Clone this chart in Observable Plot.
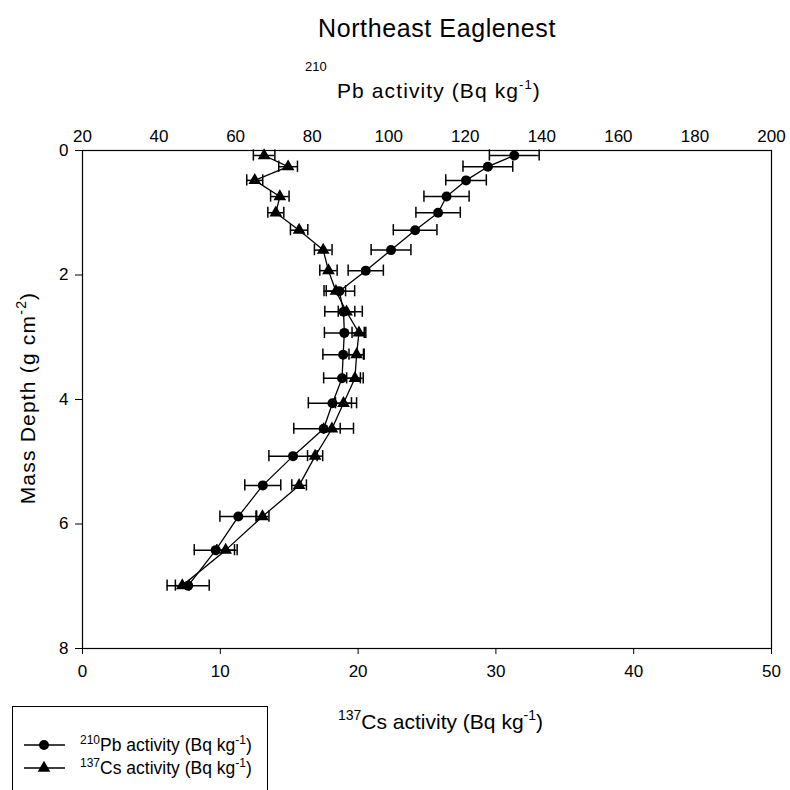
<!DOCTYPE html>
<html><head><meta charset="utf-8">
<script src="https://cdn.jsdelivr.net/npm/d3@7"></script>
<script src="https://cdn.jsdelivr.net/npm/@observablehq/plot@0.6"></script>
<style>
body{margin:0;background:#fff;font-family:"Liberation Sans",Arial,sans-serif;}
#wrap{position:relative;width:790px;height:790px;overflow:hidden;background:#fff;}
#wrap svg{position:absolute;left:0;top:0;}
</style></head><body><div id="wrap"></div>
<script>
// Data
const depth = [0.08,0.26,0.48,0.74,1.00,1.28,1.60,1.93,2.26,2.59,2.93,3.28,3.66,4.06,4.47,4.91,5.38,5.88,6.42,6.99];
const pb    = [132.8,125.9,120.2,115.1,112.9,106.9,100.6,94.0,87.1,88.2,88.4,88.1,87.8,85.3,83.0,75.0,67.1,60.7,54.8,47.6];
const pbErr = [6.5,6.5,5.3,5.9,5.8,5.7,5.2,4.6,4.0,4.9,5.2,5.3,4.8,6.3,7.8,6.3,4.7,4.8,5.6,5.5];
const cs    = [13.18,14.92,12.50,14.32,14.03,15.72,17.47,17.85,18.39,19.16,20.06,19.89,19.77,18.94,18.10,16.88,15.72,13.06,10.39,7.24];
const csErr = [0.78,0.68,0.58,0.67,0.58,0.63,0.64,0.63,0.70,0.60,0.50,0.55,0.60,0.58,0.60,0.55,0.53,0.47,0.64,0.50];
const pbTicks = [20,40,60,80,100,120,140,160,180,200];
const csTicks = [0,10,20,30,40,50];
const depthTicks = [0,2,4,6,8];
const title = "Northeast Eaglenest";

const W = 790, H = 790;
const font = '"Liberation Sans", Arial, sans-serif';
const rows = depth.map((d, i) => ({depth: d, pb: pb[i], pbErr: pbErr[i], cs: cs[i], csErr: csErr[i]}));
const cap = 0.09;
const common = {
  width: W, height: H, marginTop: 150, marginBottom: 142, marginLeft: 82, marginRight: 19,
  style: {background: "transparent", fontFamily: font, fontSize: "17px", color: "black", overflow: "visible"},
  y: {domain: [0, 8], reverse: true}
};

function errMarks(xv, ev, sym, r) {
  return [
    Plot.ruleY(rows, {y: "depth", x1: d => d[xv] - d[ev], x2: d => d[xv] + d[ev], stroke: "black", strokeWidth: 1.5}),
    Plot.ruleX(rows, {x: d => d[xv] - d[ev], y1: d => d.depth - cap, y2: d => d.depth + cap, stroke: "black", strokeWidth: 1.5}),
    Plot.ruleX(rows, {x: d => d[xv] + d[ev], y1: d => d.depth - cap, y2: d => d.depth + cap, stroke: "black", strokeWidth: 1.5}),
    Plot.line(rows, {x: xv, y: "depth", stroke: "black", strokeWidth: 1.3}),
    Plot.dot(rows, {x: xv, y: "depth", symbol: sym, r: r, fill: "black", stroke: "none"})
  ];
}

const plotCs = Plot.plot({
  ...common,
  x: {domain: [0, 50]},
  marks: [
    Plot.frame({stroke: "black", strokeWidth: 1.2}),
    Plot.axisX({anchor: "bottom", ticks: csTicks, tickSize: 6, tickPadding: 10, label: null, fontSize: 17}),
    Plot.axisY({anchor: "left", ticks: depthTicks, tickSize: 7, tickPadding: 7, label: null, fontSize: 17}),
    ...errMarks("cs", "csErr", "triangle", 4.7)
  ]
});

const plotPb = Plot.plot({
  ...common,
  x: {domain: [20, 200]},
  y: {domain: [0, 8], reverse: true, axis: null},
  marks: [
    Plot.axisX({anchor: "top", ticks: pbTicks, tickSize: 0, tickPadding: 9, label: null, fontSize: 17}),
    ...errMarks("pb", "pbErr", "circle", 5)
  ]
});

const wrap = document.getElementById("wrap");
wrap.appendChild(plotCs);
wrap.appendChild(plotPb);

// Text overlay: title, axis labels, legend
const svg = d3.select(wrap).append("svg").attr("width", W).attr("height", H)
  .style("font-family", font).attr("fill", "black");

function rich(sel, x, y, parts, size, supSize, opts = {}) {
  const t = sel.append("text").attr("x", x).attr("y", y).attr("font-size", size)
    .attr("text-anchor", opts.anchor || "start");
  if (opts.ls) t.attr("letter-spacing", opts.ls);
  if (opts.transform) t.attr("transform", opts.transform);
  const shift = size * 0.42;
  let raised = false;
  parts.forEach(p => {
    const ts = t.append("tspan").text(p.t);
    if (p.sup && !raised) { ts.attr("dy", -shift).attr("font-size", supSize); raised = true; }
    else if (p.sup) { ts.attr("font-size", supSize); }
    else if (!p.sup && raised) { ts.attr("dy", shift); raised = false; }
  });
  return t;
}

svg.append("text").attr("x", 437).attr("y", 37).attr("text-anchor", "middle")
  .attr("font-size", 25).attr("letter-spacing", 0.6).text(title);

// top axis label
svg.append("text").attr("x", 305).attr("y", 71).attr("font-size", 13).text("210");
rich(svg, 337, 98, [{t: "Pb activity (Bq kg"}, {t: "-1", sup: true}, {t: ")"}], 21, 13, {ls: 1.1});

// bottom axis label
rich(svg, 338, 729, [{t: "137", sup: true}, {t: "Cs activity (Bq kg"}, {t: "-1", sup: true}, {t: ")"}], 21, 14, {});

// y axis label
rich(svg, 0, 0, [{t: "Mass Depth (g cm"}, {t: "-2", sup: true}, {t: ")"}], 21, 14,
  {anchor: "middle", ls: 1.2, transform: "translate(35,398) rotate(-90)"});

// legend
svg.append("rect").attr("x", 12.5).attr("y", 706.5).attr("width", 255).attr("height", 100)
  .attr("fill", "none").attr("stroke", "black").attr("stroke-width", 1);
const legendRows = [
  {y: 745, sym: d3.symbolCircle, r: 5, parts: [{t: "210", sup: true}, {t: "Pb activity (Bq kg"}, {t: "-1", sup: true}, {t: ")"}]},
  {y: 768, sym: d3.symbolTriangle, r: 4.7, parts: [{t: "137", sup: true}, {t: "Cs activity (Bq kg"}, {t: "-1", sup: true}, {t: ")"}]}
];
legendRows.forEach(L => {
  svg.append("line").attr("x1", 24).attr("x2", 65).attr("y1", L.y).attr("y2", L.y)
    .attr("stroke", "black").attr("stroke-width", 1.3);
  svg.append("path").attr("d", d3.symbol(L.sym, Math.PI * L.r * L.r)())
    .attr("transform", `translate(44,${L.y})`).attr("fill", "black");
  rich(svg, 80, L.y + 6, L.parts, 17.5, 12, {});
});
</script>
</body></html>
